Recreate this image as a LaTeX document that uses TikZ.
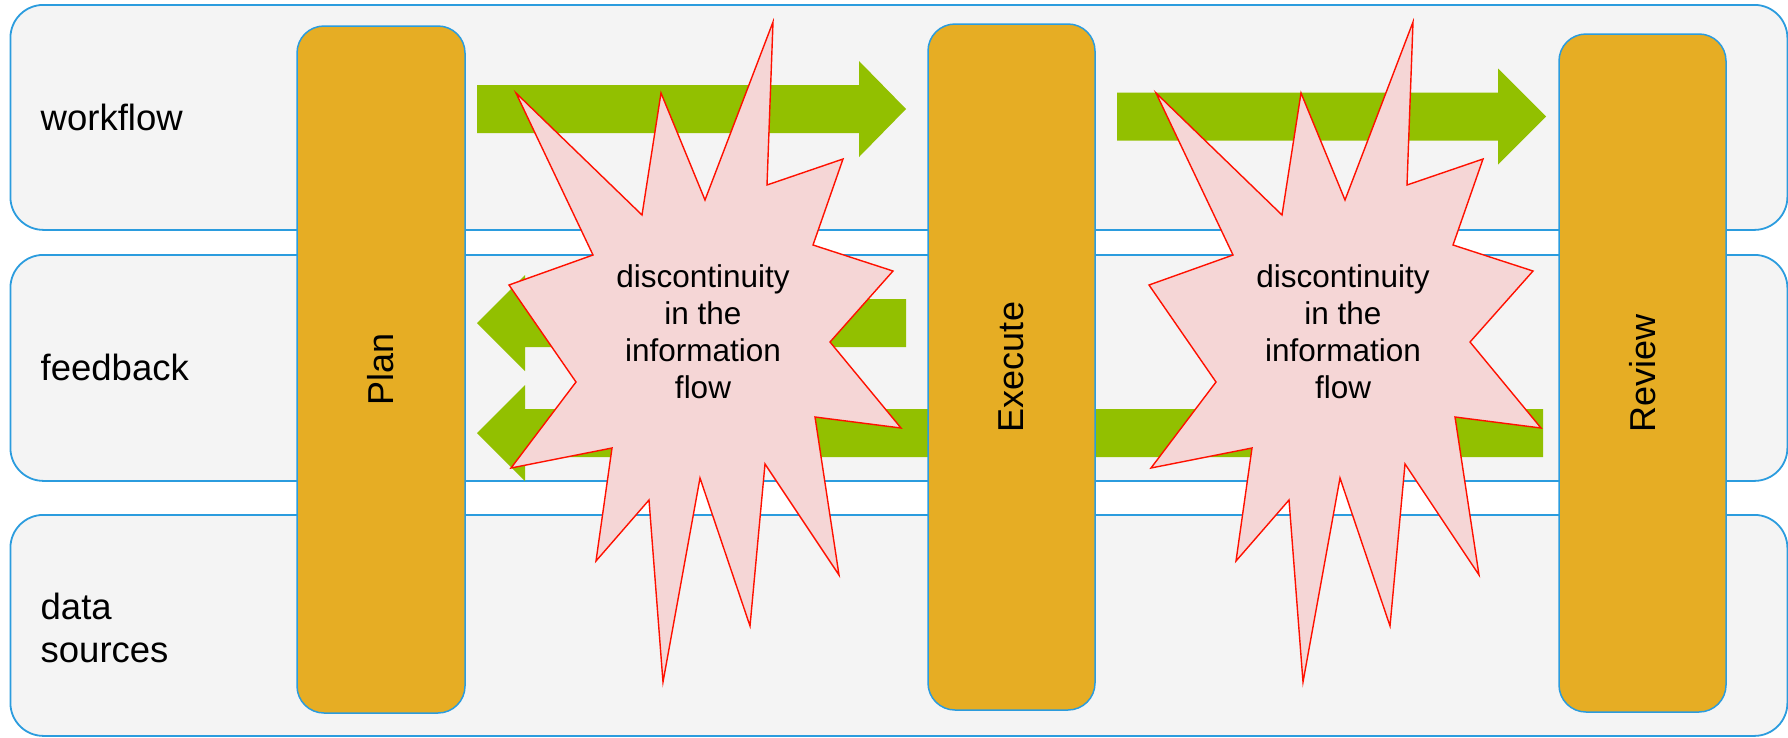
\documentclass[tikz,border=0pt]{standalone}
\usepackage{fontspec}
\setmainfont{Liberation Sans}
\usetikzlibrary{calc,positioning}

\definecolor{laneblue}{RGB}{43,156,222}
\definecolor{lanegray}{RGB}{244,244,244}
\definecolor{stagegold}{RGB}{230,173,36}
\definecolor{flowgreen}{RGB}{146,192,0}
\definecolor{burstpink}{RGB}{245,214,214}
\definecolor{burstred}{RGB}{255,16,0}

\tikzset{
  lane/.style={draw=laneblue, line width=1.8pt, fill=lanegray, rounded corners=33pt,
    anchor=north west, inner sep=0pt},
  lanelabel/.style={font=\fontsize{36.5}{43}\selectfont, align=left, inner sep=0pt},
  stage/.style={draw=laneblue, line width=1.5pt, fill=stagegold, rounded corners=27pt,
    rotate=90, inner sep=0pt, font=\fontsize{36}{40}\selectfont},
  flow/.style={fill=flowgreen},
  burst/.style={draw=burstred, line width=1.4pt, fill=burstpink, line join=miter},
  bursttext/.style={align=center, inner sep=0pt, font=\fontsize{31.5}{37}\selectfont}
}

% block arrow: tail, tip, signed head length
\newcommand{\blockarrow}[3]{%
  \fill[flow] ($(#1)+(0,-24)$) -- ($(#2)+(#3,-24)$) -- ($(#2)+(#3,-48)$) -- (#2)
    -- ($(#2)+(#3,48)$) -- ($(#2)+(#3,24)$) -- ($(#1)+(0,24)$) -- cycle;}

\begin{document}
\begin{tikzpicture}[x=1pt,y=-1pt]
\useasboundingbox (0,0) rectangle (1788,737);

% swim lanes
\node[lane, minimum width=1777, minimum height=225] (wf) at (9.5,4) {};
\node[lane, minimum width=1777, minimum height=226] (fb) at (9.5,254) {};
\node[lane, minimum width=1777, minimum height=221] (ds) at (9.5,514) {};
\node[lanelabel, right=31pt of wf.west] (wflabel) {workflow};
\node[lanelabel, right=31pt of fb.west] (fblabel) {feedback};
\node[lanelabel, right=31pt of ds.west, yshift=-3pt] (dslabel) {data\\sources};

% flows
\coordinate (wfa) at (477,109);    \coordinate (wfb) at (906,109);
\coordinate (wfc) at (1117,116.5); \coordinate (wfd) at (1546,116.5);
\coordinate (fba) at (906,323);    \coordinate (fbb) at (477,323);
\coordinate (fbc) at (1543,433);   \coordinate (fbd) at (477,433);
\blockarrow{wfa}{wfb}{-47}
\blockarrow{wfc}{wfd}{-48}
\blockarrow{fba}{fbb}{48}
\blockarrow{fbc}{fbd}{48}

% stages
\node[stage, minimum width=687, minimum height=168] (plan) at (381,369.5) {Plan};
\node[stage, minimum width=686, minimum height=167] (exec) at (1011.5,367) {Execute};
\node[stage, minimum width=678, minimum height=167] (review) at (1642.5,373) {Review};

% breaks in the flow
\foreach \dx/\nm in {0/gap1,640/gap2}{
  \draw[burst, xshift=\dx] (516,93) -- (642,215) -- (661,93) -- (705,200) -- (773,22)
    -- (767,185) -- (843,159) -- (813,245) -- (893,271) -- (830,342) -- (901,428)
    -- (815,417) -- (839,575) -- (765,464) -- (750,626) -- (700,478) -- (663,682)
    -- (649,500) -- (596,561) -- (612,448) -- (511,468) -- (576,382) -- (509,285)
    -- (593,255) -- cycle;
  \node[bursttext, xshift=\dx] (\nm) at (703,332)
    {discontinuity\\in the\\information\\flow};
}
\end{tikzpicture}
\end{document}
